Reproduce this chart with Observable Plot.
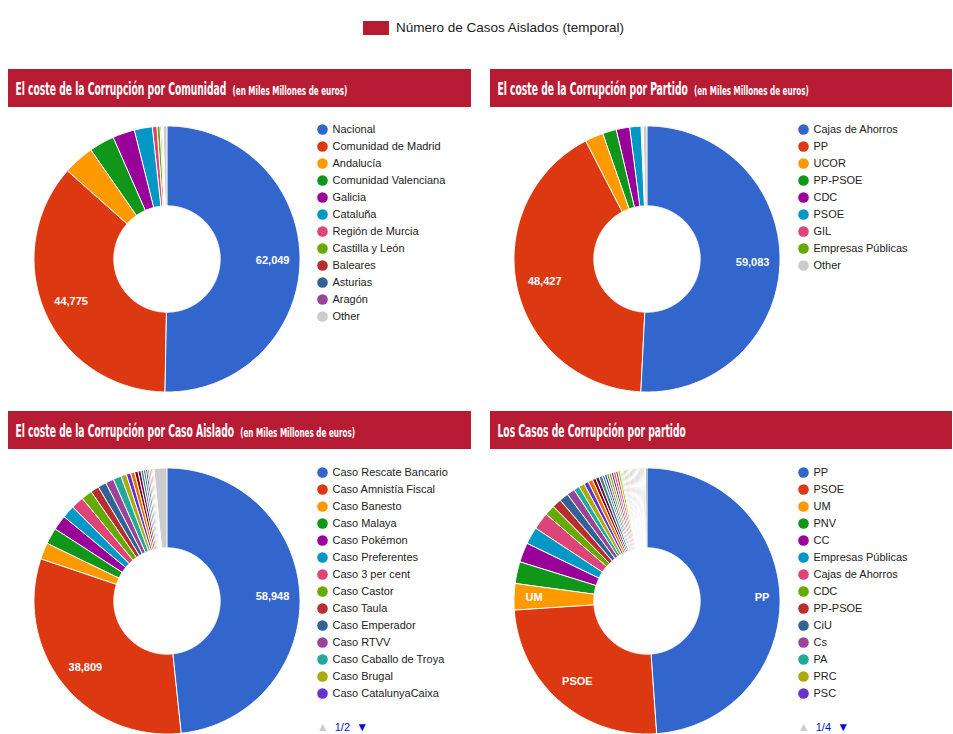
<!DOCTYPE html>
<html><head><meta charset="utf-8">
<script src="https://cdn.jsdelivr.net/npm/d3@7"></script>
<script src="https://cdn.jsdelivr.net/npm/@observablehq/plot@0.6"></script>
<style>
body{margin:0;background:#fff;font-family:Arial,"Liberation Sans",sans-serif;}
#page{position:relative;width:953px;height:734px;overflow:hidden;background:#fff;}
.abs{position:absolute;}
.pager{font:11px Arial,"Liberation Sans",sans-serif;line-height:12px;white-space:nowrap;}
</style></head><body><div id="page"></div>
<script>
// ---------- Data ----------
const palette = ["#3366cc","#dc3912","#ff9900","#109618","#990099","#0099c6","#dd4477","#66aa00","#b82e2e","#316395","#994499","#22aa99","#aaaa11","#6633cc","#e67300","#8b0707","#651067","#329262","#5574a6","#3b3eac","#b77322","#16d620","#b91383","#f4359e","#9c5935","#a9c413","#2a778d","#668d1c","#bea413","#0c5922","#743411"];
const otherColor = "#cccccc";

const topLegendLabel = "Número de Casos Aislados (temporal)";
const titles = [
  ["El coste de la Corrupción por Comunidad", "(en Miles Millones de euros)"],
  ["El coste de la Corrupción por Partido", "(en Miles Millones de euros)"],
  ["El coste de la Corrupción por Caso Aislado", "(en Miles Millones de euros)"],
  ["Los Casos de Corrupción por partido", ""]
];

// Chart 1: coste por comunidad
const comunidadCats = ["Nacional","Comunidad de Madrid","Andalucía","Comunidad Valenciana","Galicia","Cataluña","Región de Murcia","Castilla y León","Baleares","Asturias","Aragón","Other"];
const comunidadVals = [62049, 44775, 4650, 3780, 3300, 2700, 690, 450, 200, 140, 130, 520];

// Chart 2: coste por partido
const partidoCats = ["Cajas de Ahorros","PP","UCOR","PP-PSOE","CDC","PSOE","GIL","Empresas Públicas","Other"];
const partidoVals = [59083, 48427, 2600, 1950, 1900, 1600, 150, 130, 500];

// Chart 3: coste por caso aislado (page 1 of legend shown; page 2 names not visible)
const casoCats = ["Caso Rescate Bancario","Caso Amnistía Fiscal","Caso Banesto","Caso Malaya","Caso Pokémon","Caso Preferentes","Caso 3 per cent","Caso Castor","Caso Taula","Caso Emperador","Caso RTVV","Caso Caballo de Troya","Caso Brugal","Caso CatalunyaCaixa",
  "Caso (pág. 2) 1","Caso (pág. 2) 2","Caso (pág. 2) 3","Caso (pág. 2) 4","Caso (pág. 2) 5","Caso (pág. 2) 6","Caso (pág. 2) 7","Caso (pág. 2) 8","Caso (pág. 2) 9","Caso (pág. 2) 10","Caso (pág. 2) 11","Other"];
const casoVals = [58948, 38809, 2450, 2400, 2200, 1900, 1880, 1620, 1250, 1240, 1230, 1200, 820, 650,
  600, 500, 440, 370, 330, 290, 250, 220, 190, 160, 130, 1860];

// Chart 4: número de casos por partido (pages 2-4 of legend not visible)
const casosPartidoCats = ["PP","PSOE","UM","PNV","CC","Empresas Públicas","Cajas de Ahorros","CDC","PP-PSOE","CiU","Cs","PA","PRC","PSC",
  "P2-1","P2-2","P2-3","P2-4","P2-5","P2-6","P2-7","P2-8","P2-9","P2-10","P2-11","P2-12","P2-13","P2-14",
  "P3-1","P3-2","P3-3","P3-4","P3-5","P3-6","P3-7","P3-8","P3-9","P3-10","P3-11","P3-12","P3-13","P3-14",
  "P4-1","P4-2","P4-3","P4-4","P4-5","P4-6","P4-7"];
const casosPartidoVals = [351, 180, 23, 19, 17, 15, 15, 9, 8, 8, 7, 5, 5, 4,
  4, 3, 3, 3, 2, 2, 2, 2, 2, 2, 2, 2, 1, 1,
  1, 1, 1, 1, 1, 1, 1, 1, 1, 1, 1, 1, 1, 1,
  1, 1, 1, 1, 1, 1, 1];

const legendPages = ["", "", "1/2", "1/4"];
const legendPerPage = 14;

// ---------- Rendering ----------
const page = document.getElementById("page");
const FONT = "Arial, 'Liberation Sans', sans-serif";
const HEADER_COLOR = "#b71c34";
const canvas = document.createElement("canvas");
const ctx = canvas.getContext("2d");
function measure(text, font) { ctx.font = font; return ctx.measureText(text).width; }

function colorsFor(cats) {
  let k = 0;
  return cats.map(c => c === "Other" ? otherColor : palette[(k++) % palette.length]);
}

// top legend
{
  const sw = document.createElement("div");
  sw.className = "abs";
  Object.assign(sw.style, {left: "363px", top: "21px", width: "26px", height: "14px", background: HEADER_COLOR});
  page.appendChild(sw);
  const t = document.createElement("div");
  t.className = "abs";
  Object.assign(t.style, {left: "396px", top: "19px", font: "13.5px " + FONT, color: "#222", lineHeight: "18px", whiteSpace: "nowrap"});
  t.textContent = topLegendLabel;
  page.appendChild(t);
}

const panels = [
  {left: 8, top: 69, w: 463, cx: 166.7, cy: 258.8, lx: 315.7, ly: 121},
  {left: 490, top: 69, w: 462, cx: 646.7, cy: 258.8, lx: 796.7, ly: 121},
  {left: 8, top: 411, w: 463, cx: 166.7, cy: 600.5, lx: 315.7, ly: 463.7},
  {left: 490, top: 411, w: 462, cx: 646.7, cy: 600.5, lx: 796.7, ly: 463.7}
];

// header titles (condensed look via horizontal scale)
const MAIN_FONT_FAMILY = "'Liberation Sans Narrow', 'DejaVu Sans Condensed', Arial, sans-serif";
const mainFont = "bold 18px " + MAIN_FONT_FAMILY;
const smallFont = "bold 13px " + MAIN_FONT_FAMILY;
const kMain = 211 / measure(titles[0][0], mainFont);
const kSmall = 115 / measure(titles[0][1], smallFont);

panels.forEach((p, i) => {
  const svg = d3.create("svg").attr("width", p.w).attr("height", 38)
    .style("position", "absolute").style("left", p.left + "px").style("top", p.top + "px");
  svg.append("rect").attr("width", p.w).attr("height", 38).attr("fill", HEADER_COLOR);
  const mw = measure(titles[i][0], mainFont) * kMain;
  svg.append("text").attr("transform", `translate(7.5,25.5) scale(${kMain},1)`)
    .attr("fill", "white").style("font", mainFont).text(titles[i][0]);
  if (titles[i][1]) {
    svg.append("text").attr("transform", `translate(${7.5 + mw + 6},25.5) scale(${kSmall},1)`)
      .attr("fill", "white").style("font", smallFont).text(titles[i][1]);
  }
  page.appendChild(svg.node());
});

const S = 280, R = 133, HOLE = 0.4;
const LABEL_FONT = "bold 11px Arial";
const fmt = d3.format(",");

function donut(cats, vals, nLabeled, useName) {
  const colors = colorsFor(cats);
  const total = d3.sum(vals);
  const pts = [], labels = [];
  let acc = 0;
  cats.forEach((c, i) => {
    const a0 = acc / total * 2 * Math.PI;
    acc += vals[i];
    const a1 = acc / total * 2 * Math.PI;
    const n = Math.max(2, Math.ceil((a1 - a0) / (Math.PI / 360)) + 1);
    for (let k = 0; k < n; k++) {
      const t = a0 + (a1 - a0) * k / (n - 1);
      pts.push({cat: c, xo: Math.sin(t), yo: Math.cos(t), xi: HOLE * Math.sin(t), yi: HOLE * Math.cos(t)});
    }
    if (i < nLabeled) {
      const text = useName ? c : fmt(vals[i]);
      const w = measure(text, LABEL_FONT);
      const d = (R - (w / 2 + 11)) / R;
      const m = (a0 + a1) / 2;
      labels.push({x: d * Math.sin(m), y: d * Math.cos(m), text});
    }
  });
  const h = (S / 2) / R;
  const plot = Plot.plot({
    width: S, height: S, margin: 0,
    style: {fontFamily: FONT, background: "transparent", overflow: "visible"},
    x: {domain: [-h, h], axis: null},
    y: {domain: [-h, h], axis: null},
    color: {type: "ordinal", domain: cats, range: colors},
    marks: [
      Plot.area(pts, {x1: "xo", y1: "yo", x2: "xi", y2: "yi", z: "cat", fill: "cat", stroke: "white", strokeWidth: 1, strokeLinejoin: "round"}),
      Plot.text(labels, {x: "x", y: "y", text: "text", fill: "white", fontSize: 11, fontWeight: "bold"})
    ]
  });
  return {plot, colors};
}

function legend(cats, colors) {
  const shown = cats.slice(0, legendPerPage);
  const step = 17.05;
  const H = 8 + (shown.length - 1) * step + 10;
  return Plot.plot({
    width: 160, height: H, margin: 0,
    style: {fontFamily: FONT, background: "transparent", overflow: "visible"},
    x: {axis: null},
    y: {type: "point", domain: shown, range: [8, 8 + (shown.length - 1) * step], padding: 0, axis: null},
    color: {type: "ordinal", domain: cats, range: colors},
    marks: [
      Plot.dot(shown, {y: d => d, fill: d => d, r: 5.3, frameAnchor: "left", dx: 6}),
      Plot.text(shown, {y: d => d, text: d => d, frameAnchor: "left", dx: 16, textAnchor: "start", fill: "#222", fontSize: 11})
    ]
  });
}

const charts = [
  [comunidadCats, comunidadVals, 2, false],
  [partidoCats, partidoVals, 2, false],
  [casoCats, casoVals, 2, false],
  [casosPartidoCats, casosPartidoVals, 3, true]
];

charts.forEach(([cats, vals, nl, useName], i) => {
  const p = panels[i];
  const {plot, colors} = donut(cats, vals, nl, useName);
  Object.assign(plot.style, {position: "absolute", left: (p.cx - S / 2) + "px", top: (p.cy - S / 2) + "px"});
  page.appendChild(plot);
  const lg = legend(cats, colors);
  Object.assign(lg.style, {position: "absolute", left: p.lx + "px", top: p.ly + "px"});
  page.appendChild(lg);
  if (legendPages[i]) {
    const pg = document.createElement("div");
    pg.className = "abs pager";
    Object.assign(pg.style, {left: (p.lx + 1) + "px", top: "721px"});
    pg.innerHTML = '<span style="color:#cccccc;font-size:12px">\u25B2</span>&nbsp;&nbsp;<span style="color:#0011cc">' + legendPages[i] + '</span>&nbsp;&nbsp;<span style="color:#0011cc;font-size:12px">\u25BC</span>';
    page.appendChild(pg);
  }
});
</script></body></html>
